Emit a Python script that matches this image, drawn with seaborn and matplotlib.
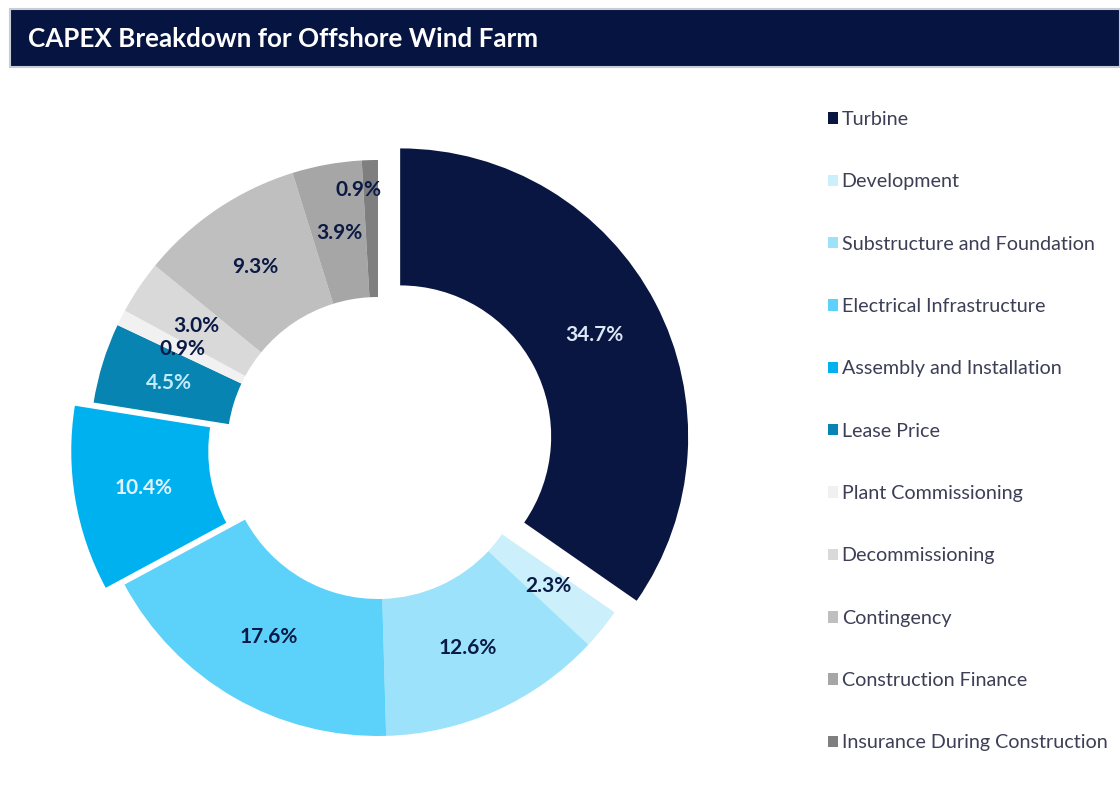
import numpy as np
import matplotlib
matplotlib.use("Agg")
import matplotlib.pyplot as plt
from matplotlib.patches import Rectangle
import seaborn as sns

# data
categories = ["Turbine", "Development", "Substructure and Foundation",
              "Electrical Infrastructure", "Assembly and Installation",
              "Lease Price", "Plant Commissioning", "Decommissioning",
              "Contingency", "Construction Finance", "Insurance During Construction"]
shares = [34.7, 2.3, 12.6, 17.6, 10.4, 4.5, 0.9, 3.0, 9.3, 3.9, 0.9]

slice_colors = ["#081641", "#CBEFFB", "#9CE2FB", "#5CD2FA", "#00B1F0",
                "#0784B2", "#F1F1F1", "#D9D9D9", "#BFBFBF", "#A6A6A6", "#7F7F7F"]
label_colors = ["#DCE6F5", "#0B1A45", "#0B1A45", "#0B1A45", "#E3F1FA",
                "#BFEBFA", "#0B1A45", "#0B1A45", "#0B1A45", "#0B1A45", "#0B1A45"]
# offsets in pixels (pie takes explode in data units)
explode = [25, 0, 0, 0, 19, 0, 0, 0, 0, 0, 0]

sns.set_theme(style="white")
plt.rcParams["font.family"] = ["Lato", "DejaVu Sans"]

W, H = 1120, 796
fig = plt.figure(figsize=(W / 100, H / 100), dpi=100)
ax = fig.add_axes([0, 0, 1, 1])

cx, cy, R = 378, H - 448, 288
pal = sns.color_palette(slice_colors)
wedges, texts, autotexts = ax.pie(
    shares, colors=pal, explode=explode, startangle=90, counterclock=False,
    center=(cx, cy), radius=R, autopct="%.1f%%", pctdistance=0.76,
    wedgeprops=dict(width=137, linewidth=0),
    textprops=dict(fontsize=15, fontweight="bold"))

for t, c in zip(autotexts, label_colors):
    t.set_color(c)

# last small label was nudged outward in the original
w = wedges[-1]
ang = np.deg2rad((w.theta1 + w.theta2) / 2 + 2.6)
autotexts[-1].set_position((cx + 259 * np.cos(ang), cy + 259 * np.sin(ang)))

ax.set_xlim(0, W)
ax.set_ylim(0, H)
ax.set_aspect("equal")
ax.axis("off")

# title bar
ax.add_patch(Rectangle((10, H - 67), W - 10, 58, facecolor="#061441",
                       edgecolor="#C8CCD6", linewidth=1.5, zorder=0))
ax.text(28, H - 39, "CAPEX Breakdown for Offshore Wind Farm", color="white",
        fontsize=18.75, fontweight="bold", va="center", ha="left")

leg = ax.legend(wedges, categories, loc="upper left", bbox_to_anchor=(820 / W, 1 - 103 / H),
                frameon=False, fontsize=14.2, labelspacing=2.3, handlelength=0.52,
                handleheight=0.52, handletextpad=0.18, borderaxespad=0)
for txt in leg.get_texts():
    txt.set_color("#3C3F55")

fig.savefig("out.png", dpi=100, facecolor="white")
